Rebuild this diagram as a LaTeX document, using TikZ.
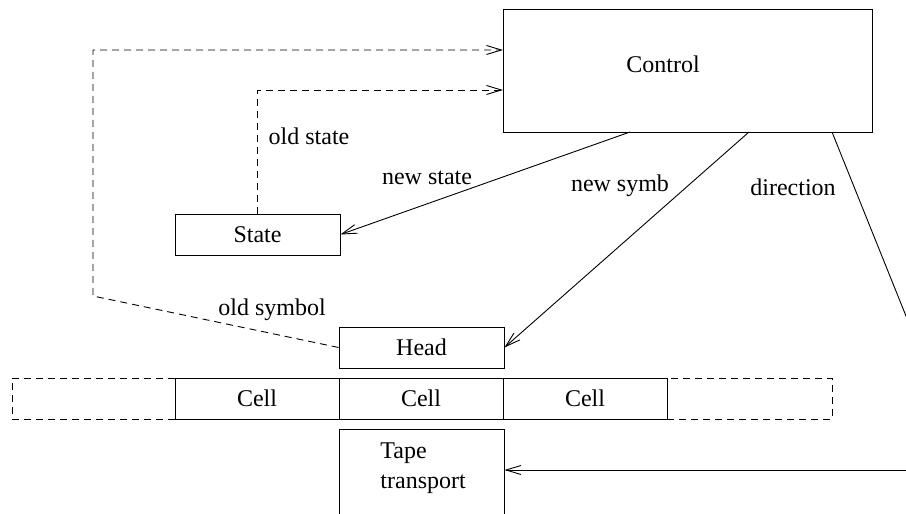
\documentclass[tikz,border=0pt]{standalone}
\usepackage{fontspec}
\setmainfont{Liberation Serif}
\usetikzlibrary{arrows.meta}
\begin{document}
\begin{tikzpicture}[x=1pt,y=-1pt,line width=0.9pt,
  font=\fontsize{24}{30}\selectfont,
  box/.style={draw,rectangle,inner sep=0pt,minimum height=41pt},
  dbox/.style={draw,dashed,rectangle,inner sep=0pt,minimum height=41pt},
  txt/.style={inner sep=0pt,anchor=center},
  dsh/.style={dash pattern=on 7pt off 5pt},
  arr/.style={-{Straight Barb[length=15pt,width=9pt,line width=0.9pt]}}]
\clip (0,0) rectangle (906,514);
% boxes
\node[box,minimum width=369pt,minimum height=123pt] (control) at (687.5,70.5) {};
\node[txt] (controltxt) at (663,64) {Control};
\node[box,minimum width=165pt] (state) at (257.5,234.5) {State};
\node[box,minimum width=165pt] (head) at (421.5,347.5) {Head};
\node[draw,dsh,rectangle,inner sep=0pt,minimum height=41pt,minimum width=163pt] (dl) at (93.5,398.5) {};
\node[draw,dsh,rectangle,inner sep=0pt,minimum height=41pt,minimum width=165pt] (dr) at (749.5,398.5) {};
\node[box,minimum width=164pt] (cell1) at (257,398.5) {Cell};
\node[box,minimum width=164pt] (cell2) at (421,398.5) {Cell};
\node[box,minimum width=164pt] (cell3) at (585,398.5) {Cell};
\node[box,minimum width=165pt,minimum height=100pt] (tape) at (421.5,479) {};
\node[txt,anchor=west,align=left] (tapetxt) at (380,468) {Tape\\transport};
% coordinates
\coordinate (cin1) at (503,50);
\coordinate (cin2) at (503,90);
\coordinate (cout1) at (630,132);
\coordinate (cout2) at (749,132);
\coordinate (cout3) at (832,132);
\coordinate (dirend) at (910,326);
\coordinate (tin) at (910,470);
\coordinate (os1) at (93,296);
\coordinate (os2) at (93,50);
% connectors
\draw[arr,dsh] (state.north) |- (cin2);
\draw[arr,dsh] (head.west) -- (os1) -- (os2) -- (cin1);
\draw[arr] (cout1) -- (state.east);
\draw[arr] (cout2) -- (head.east);
\draw (cout3) -- (dirend);
\draw[arr] (tin) -- (tin -| tape.east);
% labels
\node[txt] (lold) at (309,136) {old state};
\node[txt] (lnew) at (427,178) {new state};
\node[txt] (lsymb) at (620,186) {new symb};
\node[txt] (ldir) at (793,187) {direction};
\node[txt] (lolds) at (272,310) {old symbol};
\end{tikzpicture}
\end{document}
